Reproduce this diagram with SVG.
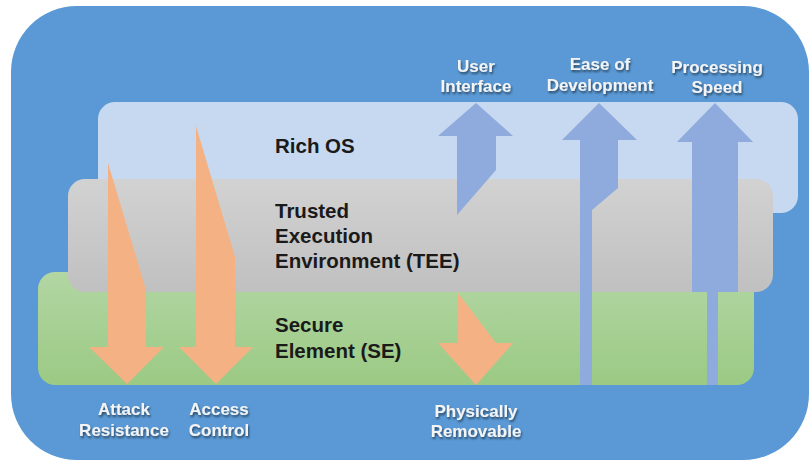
<svg xmlns="http://www.w3.org/2000/svg" width="810" height="461" viewBox="0 0 810 461">
<defs>
<linearGradient id="gTee" x1="0" y1="0" x2="0" y2="1"><stop offset="0" stop-color="#D2D2D2"/><stop offset="1" stop-color="#C0C0C0"/></linearGradient>
<linearGradient id="gSe" x1="0" y1="0" x2="0" y2="1"><stop offset="0" stop-color="#B2D6A3"/><stop offset="1" stop-color="#9BCA84"/></linearGradient>
<filter id="sh" x="-20%" y="-30%" width="140%" height="170%"><feDropShadow dx="1" dy="2" stdDeviation="1.2" flood-color="#000" flood-opacity="0.55"/></filter>
</defs>
<style>
.dark{font-family:"Liberation Sans",Arial,sans-serif;font-weight:bold;font-size:20.5px;fill:#1A1A1A}
.lab{font-family:"Liberation Sans",Arial,sans-serif;font-weight:bold;font-size:17px;fill:#F4F4F4;text-anchor:middle;filter:url(#sh)}
.or{fill:#F4B183}
.bl{fill:#8FAADC}
</style>
<rect width="810" height="461" fill="#FFFFFF"/>
<g id="device"><rect x="11" y="6" width="798" height="454" rx="66" fill="#5A99D5"/></g>
<g id="rich-os">
<rect x="98" y="102" width="700" height="111" rx="17" fill="#C6D9F0"/>
<text class="dark" x="275" y="153">Rich OS</text>
</g>
<g id="se">
<rect x="38" y="272" width="716" height="113" rx="17" fill="url(#gSe)"/>
</g>
<g id="tee">
<rect x="68" y="179" width="705" height="113" rx="17" fill="url(#gTee)"/>
<text class="dark" x="275" y="218">Trusted</text>
<text class="dark" x="275" y="243">Execution</text>
<text class="dark" x="275" y="268">Environment (TEE)</text>
</g>
<g id="se-label">
<text class="dark" x="275" y="332">Secure</text>
<text class="dark" x="275" y="358">Element (SE)</text>
</g>
<g id="arrows">
<polygon class="or" points="108,163 146,290 146,347 164,347 127,384 89,347 108,347"/>
<polygon class="or" points="196,126 235,257 235,347 253,347 216,384 179,347 196,347"/>
<polygon class="or" points="458,293 496,343 513,343 476,385 438,343 458,343"/>
<polygon class="bl" points="476,103 513,136 496,136 496,170 457,215 457,136 438,136"/>
<polygon class="bl" points="599,103 637,140 618,140 618,188 592,210 592,385 580,385 580,140 562,140"/>
<polygon class="bl" points="715,103 753,142 738,142 738,292 718,292 718,385 707,385 707,292 692,292 692,142 677,142"/>
</g>
<g id="labels">
<text class="lab" x="476" y="72">User</text>
<text class="lab" x="476" y="92">Interface</text>
<text class="lab" x="600" y="70">Ease of</text>
<text class="lab" x="600" y="91">Development</text>
<text class="lab" x="717" y="73">Processing</text>
<text class="lab" x="717" y="93">Speed</text>
<text class="lab" x="124" y="415">Attack</text>
<text class="lab" x="124" y="436">Resistance</text>
<text class="lab" x="219" y="415">Access</text>
<text class="lab" x="219" y="436">Control</text>
<text class="lab" x="476" y="417">Physically</text>
<text class="lab" x="476" y="437">Removable</text>
</g>
</svg>
